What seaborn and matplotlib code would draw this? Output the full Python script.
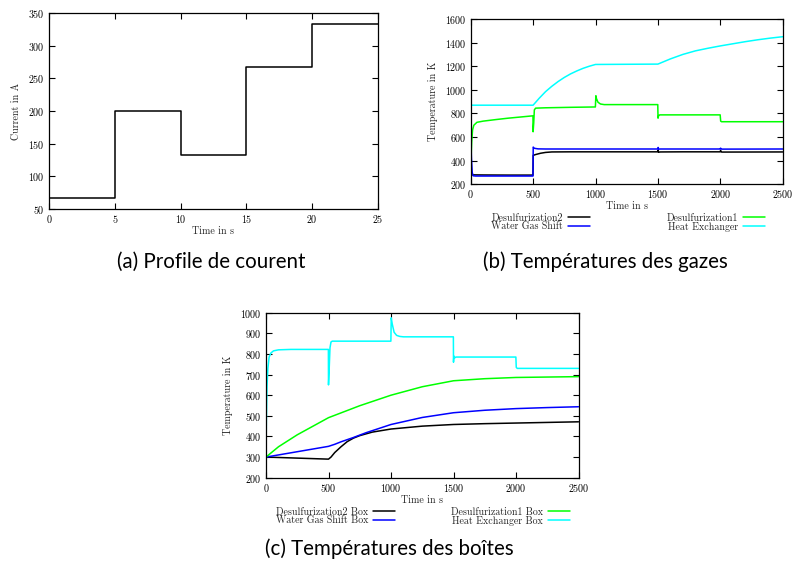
import matplotlib
matplotlib.use("Agg")
import matplotlib.pyplot as plt
import seaborn as sns
import pandas as pd

# ---------------- data ----------------
# (a) current profile
time_a = [0, 5, 10, 15, 20, 25]
current_a = [66.7, 200, 133.3, 266.7, 333.3, 333.3]

# (b) gas temperatures
t_d2_gas = [0, 3, 10, 100, 300, 499, 501, 520, 560, 600, 650, 800, 1000, 1499, 1502, 1506, 1520, 1700, 1999, 2002, 2010, 2500]
T_d2_gas = [300, 282, 280, 279, 278, 278, 445, 452, 463, 470, 474, 475, 475, 475, 490, 472, 474, 475, 475, 486, 473, 474]

t_wgs_gas = [0, 2, 6, 12, 20, 40, 499, 501, 510, 540, 600, 1000, 1499, 1502, 1506, 1520, 1999, 2002, 2010, 2500]
T_wgs_gas = [300, 560, 420, 300, 272, 270, 270, 515, 505, 500, 499, 499, 499, 512, 498, 499, 499, 506, 498, 499]

t_d1_gas = [0, 3, 8, 15, 25, 50, 100, 200, 300, 400, 499, 500, 505, 510, 520, 600, 800, 999, 1003, 1008, 1020,
            1040, 1070, 1100, 1499, 1501, 1505, 1515, 1999, 2003, 2010, 2500]
T_d1_gas = [300, 420, 560, 660, 700, 725, 735, 748, 760, 770, 780, 645, 720, 830, 845, 848, 852, 855, 950, 925, 895,
            880, 875, 875, 875, 760, 780, 788, 788, 735, 730, 730]

t_hx_gas = [0, 500, 550, 600, 650, 700, 750, 800, 850, 900, 950, 1000, 1500, 1550, 1600, 1700, 1800, 1900, 2000,
            2100, 2200, 2300, 2400, 2500]
T_hx_gas = [870, 870, 930, 985, 1030, 1070, 1105, 1135, 1160, 1182, 1200, 1215, 1218, 1240, 1262, 1300, 1330, 1352,
            1372, 1390, 1408, 1424, 1438, 1450]

# (c) box temperatures
t_d2_box = [0, 100, 250, 400, 500, 520, 550, 600, 650, 700, 750, 850, 1000, 1250, 1500, 1750, 2000, 2250, 2500]
T_d2_box = [300, 298, 295, 292, 290, 300, 322, 350, 375, 392, 404, 421, 436, 450, 458, 462, 465, 468, 471]

t_wgs_box = [0, 250, 500, 550, 600, 700, 800, 1000, 1250, 1500, 1750, 2000, 2250, 2500]
T_wgs_box = [300, 326, 352, 362, 374, 395, 418, 458, 492, 515, 527, 535, 540, 544]

t_d1_box = [0, 100, 250, 500, 750, 1000, 1250, 1500, 1750, 2000, 2250, 2500]
T_d1_box = [300, 350, 408, 491, 549, 600, 641, 670, 680, 686, 688, 690]

t_hx_box = [0, 3, 8, 15, 25, 40, 60, 100, 200, 499, 500, 505, 512, 520, 530, 999, 1002, 1010, 1025, 1045, 1070,
            1100, 1499, 1500, 1503, 1506, 1520, 1999, 2002, 2010, 2500]
T_hx_box = [300, 480, 640, 730, 785, 805, 815, 820, 822, 822, 650, 720, 830, 858, 862, 862, 975, 945, 905, 890, 885,
            883, 883, 760, 790, 780, 785, 785, 735, 730, 730]

labels_gas = ["Desulfurization2", "Water Gas Shift", "Desulfurization1", "Heat Exchanger"]
labels_box = ["Desulfurization2 Box", "Water Gas Shift Box", "Desulfurization1 Box", "Heat Exchanger Box"]
colors = ["#000000", "#0000ff", "#00ff00", "#00ffff"]

captions = ["(a) Profile de courent", "(b) Températures des gazes", "(c) Températures des boîtes"]

# ---------------- style ----------------
sns.set_theme(style="ticks")
plt.rcParams["font.family"] = ["cmr10", "DejaVu Serif"]
plt.rcParams["axes.unicode_minus"] = False
plt.rcParams["axes.formatter.use_mathtext"] = True
plt.rcParams["axes.linewidth"] = 0.9
plt.rcParams["axes.edgecolor"] = "black"

FS = 7.2
W, H = 795, 575
fig = plt.figure(figsize=(W / 100, H / 100), dpi=100)


def ax_at(l, t, r, b):
    return fig.add_axes([l / W, 1 - b / H, (r - l) / W, (b - t) / H])


def style_ax(ax):
    ax.tick_params(direction="in", top=True, right=True, length=4, width=0.8,
                   labelsize=FS, colors="black", pad=3)
    for s in ax.spines.values():
        s.set_visible(True)
        s.set_color("black")
        s.set_linewidth(0.9)
    ax.set_facecolor("white")


# (a)
ax_a = ax_at(49, 13, 378, 209)
df_a = pd.DataFrame({"t": time_a, "I": current_a})
sns.lineplot(data=df_a, x="t", y="I", ax=ax_a, color="black", lw=1.1, drawstyle="steps-post",
             estimator=None, sort=False)
ax_a.set_xlim(0, 25)
ax_a.set_ylim(50, 350)
ax_a.set_xticks(range(0, 26, 5))
ax_a.set_yticks(range(50, 351, 50))
ax_a.set_xlabel("Time in s", fontsize=FS, labelpad=1)
ax_a.set_ylabel("Current in A", fontsize=FS, labelpad=5)
style_ax(ax_a)


def temp_panel(ax, series, labels, ylim, yticks, leg_pos):
    handles = []
    for (tt, TT), lab, col in zip(series, labels, colors):
        d = pd.DataFrame({"t": tt, "T": TT})
        sns.lineplot(data=d, x="t", y="T", ax=ax, color=col, lw=1.1, estimator=None, sort=False)
        handles.append(ax.get_lines()[-1])
    if ax.get_legend() is not None:
        ax.get_legend().remove()
    ax.set_xlim(0, 2500)
    ax.set_ylim(*ylim)
    ax.set_xticks(range(0, 2501, 500))
    ax.set_yticks(yticks)
    ax.set_xlabel("Time in s", fontsize=FS, labelpad=1)
    ax.set_ylabel("Temperature in K", fontsize=FS, labelpad=5)
    style_ax(ax)
    (x1, x2, ytop) = leg_pos
    legs = []
    for k, xr in enumerate([x1, x2]):
        leg = ax.legend(handles=handles[2 * k:2 * k + 2], labels=labels[2 * k:2 * k + 2],
                        loc="upper right", bbox_to_anchor=(xr / W, 1 - ytop / H),
                        bbox_transform=fig.transFigure, frameon=False, borderpad=0,
                        borderaxespad=0, handlelength=2.2, handletextpad=0.5,
                        labelspacing=-0.1, markerfirst=False, fontsize=FS)
        legs.append(leg)
    ax.add_artist(legs[0])


ax_b = ax_at(470.7, 19, 782.7, 184.3)
temp_panel(ax_b,
           [(t_d2_gas, T_d2_gas), (t_wgs_gas, T_wgs_gas), (t_d1_gas, T_d1_gas), (t_hx_gas, T_hx_gas)],
           labels_gas, (200, 1600), range(200, 1601, 200), (590, 765, 213))

ax_c = ax_at(266, 312.7, 578.5, 477.7)
temp_panel(ax_c,
           [(t_d2_box, T_d2_box), (t_wgs_box, T_wgs_box), (t_d1_box, T_d1_box), (t_hx_box, T_hx_box)],
           labels_box, (200, 1000), range(200, 1001, 100), (395, 570, 507))

cap_kw = dict(ha="center", va="center", family=["Lato", "DejaVu Sans"], fontsize=14.8, color="black")
fig.text(211 / W, 1 - 262 / H, captions[0], **cap_kw)
fig.text(605 / W, 1 - 262 / H, captions[1], **cap_kw)
fig.text(389 / W, 1 - 549 / H, captions[2], **cap_kw)

fig.savefig("out.png", dpi=100, facecolor="white")
